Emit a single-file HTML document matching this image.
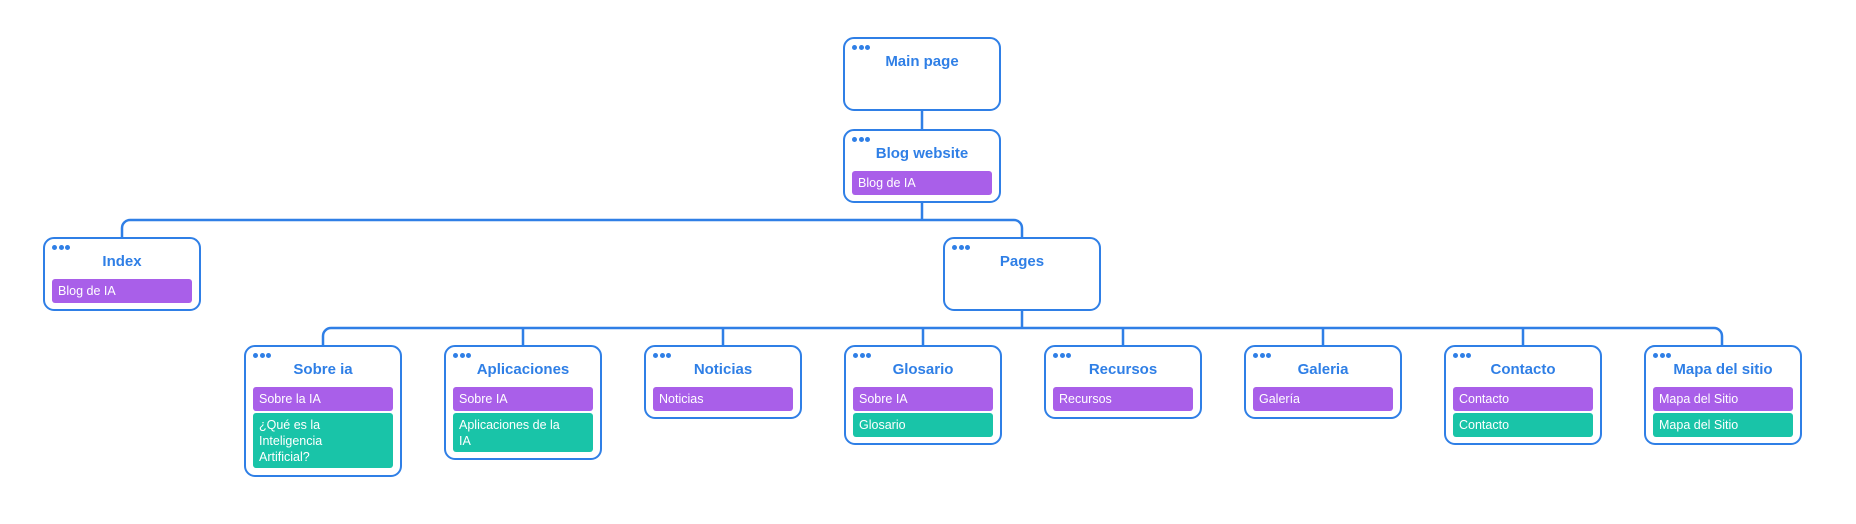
<!DOCTYPE html>
<html><head><meta charset="utf-8"><style>
body{margin:0;width:1856px;height:524px;background:#fff;position:relative;overflow:hidden;font-family:"Liberation Sans",sans-serif}
.b{position:absolute;box-sizing:border-box;border:2.5px solid #2f7fe6;border-radius:11px;background:#fff;width:158px}
.d{position:absolute;left:7px;top:6px;font-size:0}
.d i{display:inline-block;width:5px;height:5px;border-radius:50%;background:#2f7fe6;margin-right:1.5px}
.t{position:absolute;left:0;right:0;top:14px;text-align:center;color:#2f7fe6;font-weight:bold;font-size:15px;line-height:18px}
.r{position:absolute;left:7px;right:7px;border-radius:3px;color:#fff;font-size:12.5px;line-height:16px;padding:4px 6px;box-sizing:border-box}
.p{background:#a95fe9}.g{background:#19c4a8}
svg{position:absolute;left:0;top:0}
</style></head><body>
<svg width="1856" height="524"><g fill="none" stroke="#2f7fe6" stroke-width="2.5">
<path d="M922 111V129M922 203V220M130 220H1014a8 8 0 0 1 8 8V237M122 237V228a8 8 0 0 1 8-8"/>
<path d="M1022 311V328M331 328H1714a8 8 0 0 1 8 8V345M323 345V336a8 8 0 0 1 8-8"/>
<path d="M523 328V345M723 328V345M923 328V345M1123 328V345M1323 328V345M1523 328V345"/>
</g></svg>

<div class="b" style="left:843px;top:37px;height:74px"><div class="d"><i></i><i></i><i></i></div><div class="t">Main page</div></div>
<div class="b" style="left:843px;top:129px;height:74px"><div class="d"><i></i><i></i><i></i></div><div class="t">Blog website</div><div class="r p" style="top:40px;height:24px">Blog de IA</div></div>
<div class="b" style="left:43px;top:237px;height:74px"><div class="d"><i></i><i></i><i></i></div><div class="t">Index</div><div class="r p" style="top:40px;height:24px">Blog de IA</div></div>
<div class="b" style="left:943px;top:237px;height:74px"><div class="d"><i></i><i></i><i></i></div><div class="t">Pages</div></div>

<div class="b" style="left:244px;top:345px;height:132px"><div class="d"><i></i><i></i><i></i></div><div class="t">Sobre ia</div><div class="r p" style="top:40px;height:24px">Sobre la IA</div><div class="r g" style="top:66px;height:55px">¿Qué es la<br>Inteligencia<br>Artificial?</div></div>
<div class="b" style="left:444px;top:345px;height:115px"><div class="d"><i></i><i></i><i></i></div><div class="t">Aplicaciones</div><div class="r p" style="top:40px;height:24px">Sobre IA</div><div class="r g" style="top:66px;height:39px">Aplicaciones de la<br>IA</div></div>
<div class="b" style="left:644px;top:345px;height:74px"><div class="d"><i></i><i></i><i></i></div><div class="t">Noticias</div><div class="r p" style="top:40px;height:24px">Noticias</div></div>
<div class="b" style="left:844px;top:345px;height:100px"><div class="d"><i></i><i></i><i></i></div><div class="t">Glosario</div><div class="r p" style="top:40px;height:24px">Sobre IA</div><div class="r g" style="top:66px;height:24px">Glosario</div></div>
<div class="b" style="left:1044px;top:345px;height:74px"><div class="d"><i></i><i></i><i></i></div><div class="t">Recursos</div><div class="r p" style="top:40px;height:24px">Recursos</div></div>
<div class="b" style="left:1244px;top:345px;height:74px"><div class="d"><i></i><i></i><i></i></div><div class="t">Galeria</div><div class="r p" style="top:40px;height:24px">Galería</div></div>
<div class="b" style="left:1444px;top:345px;height:100px"><div class="d"><i></i><i></i><i></i></div><div class="t">Contacto</div><div class="r p" style="top:40px;height:24px">Contacto</div><div class="r g" style="top:66px;height:24px">Contacto</div></div>
<div class="b" style="left:1644px;top:345px;height:100px"><div class="d"><i></i><i></i><i></i></div><div class="t">Mapa del sitio</div><div class="r p" style="top:40px;height:24px">Mapa del Sitio</div><div class="r g" style="top:66px;height:24px">Mapa del Sitio</div></div>
</body></html>
